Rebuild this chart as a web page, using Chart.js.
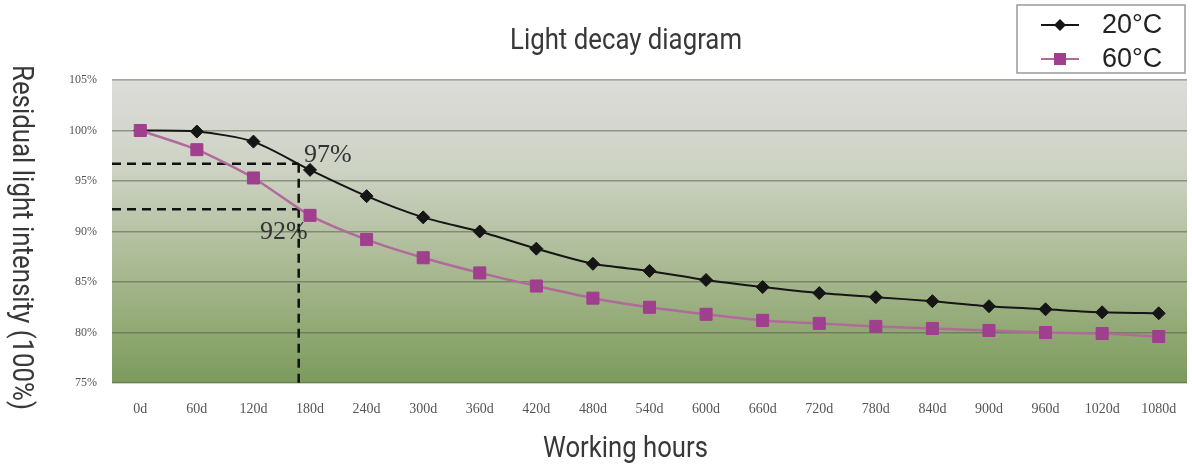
<!DOCTYPE html>
<html>
<head>
<meta charset="utf-8">
<script src="https://cdn.jsdelivr.net/npm/chart.js@4.4.1/dist/chart.umd.min.js"></script>
<style>
  body { margin: 0; background: #fff; }
  #wrap { width: 1192px; height: 465px; }
</style>
</head>
<body>
<div id="wrap"><canvas id="myChart"></canvas></div>
<script>
// data
var days = ['0d', '60d', '120d', '180d', '240d', '300d', '360d', '420d', '480d', '540d',
            '600d', '660d', '720d', '780d', '840d', '900d', '960d', '1020d', '1080d'];
var temp20 = [100, 99.9, 98.9, 96.1, 93.5, 91.4, 90.0, 88.3, 86.8, 86.1,
              85.2, 84.5, 83.9, 83.5, 83.1, 82.6, 82.3, 82.0, 81.9];
var temp60 = [100, 98.1, 95.3, 91.6, 89.2, 87.4, 85.9, 84.6, 83.4, 82.5,
              81.8, 81.2, 80.9, 80.6, 80.4, 80.2, 80.0, 79.9, 79.6];
var seriesNames = ['20°C', '60°C'];
var yTicks = [75, 80, 85, 90, 95, 100, 105];
var refLevels = [96.7, 92.2];
var refLabels = ['97%', '92%'];
var refIndex = 2.8;

var titleText = 'Light decay diagram';
var xTitle = 'Working hours';
var yTitle = 'Residual light intensity (100%)';

var purple = '#9f3f8d';
var purpleLine = '#b06b9b';

// condensed look: draw Roboto squeezed to the width seen in the picture
function drawNarrow(ctx, text, x, y, width) {
    var w = ctx.measureText(text).width;
    ctx.save();
    ctx.translate(x, y);
    ctx.scale(width / w, 1);
    ctx.fillText(text, 0, 0);
    ctx.restore();
}

// plot background gradient
var bgPlugin = {
    id: 'bg',
    beforeDraw: function(chart) {
        var a = chart.chartArea, ctx = chart.ctx;
        var g = ctx.createLinearGradient(0, a.top, 0, a.bottom);
        g.addColorStop(0, '#dcdcda');
        g.addColorStop(0.3, '#cdd2c3');
        g.addColorStop(0.65, '#a6b78e');
        g.addColorStop(1, '#7c9a5c');
        ctx.save();
        ctx.fillStyle = g;
        ctx.fillRect(a.left, a.top, a.right - a.left, a.bottom - a.top);
        ctx.restore();
    }
};

// dashed guide lines and their labels
var refPlugin = {
    id: 'refs',
    beforeDatasetsDraw: function(chart) {
        var ctx = chart.ctx, x = chart.scales.x, y = chart.scales.y, a = chart.chartArea;
        var xp = x.getPixelForValue(refIndex);
        ctx.save();
        ctx.strokeStyle = '#111';
        ctx.lineWidth = 2.5;
        ctx.setLineDash([9, 6]);
        refLevels.forEach(function(v) {
            var yp = y.getPixelForValue(v);
            ctx.beginPath();
            ctx.moveTo(a.left, yp);
            ctx.lineTo(xp, yp);
            ctx.stroke();
        });
        ctx.beginPath();
        ctx.moveTo(xp, y.getPixelForValue(refLevels[0]));
        ctx.lineTo(xp, a.bottom);
        ctx.stroke();
        ctx.restore();
    },
    afterDatasetsDraw: function(chart) {
        var ctx = chart.ctx, x = chart.scales.x, y = chart.scales.y;
        var xp = x.getPixelForValue(refIndex);
        ctx.save();
        ctx.fillStyle = '#333';
        ctx.font = "26px 'Liberation Serif', serif";
        ctx.textAlign = 'center';
        ctx.textBaseline = 'alphabetic';
        ctx.fillText(refLabels[0], xp + 29, y.getPixelForValue(refLevels[0]) - 2);
        ctx.fillText(refLabels[1], xp - 15, y.getPixelForValue(refLevels[1]) + 30);
        ctx.restore();
    }
};

// titles and boxed legend
var textPlugin = {
    id: 'texts',
    afterDraw: function(chart) {
        var ctx = chart.ctx;
        ctx.save();
        ctx.fillStyle = '#383838';
        ctx.font = '29px Roboto, sans-serif';
        ctx.textAlign = 'left';
        ctx.textBaseline = 'alphabetic';
        drawNarrow(ctx, titleText, 510, 49, 232);
        drawNarrow(ctx, xTitle, 543, 457, 165);
        ctx.translate(13, 65);
        ctx.rotate(Math.PI / 2);
        drawNarrow(ctx, yTitle, 0, 0, 345);
        ctx.restore();

        // legend
        ctx.save();
        ctx.fillStyle = '#fff';
        ctx.fillRect(1017, 5, 168, 68);
        ctx.strokeStyle = '#9a9a9a';
        ctx.lineWidth = 1.5;
        ctx.strokeRect(1017, 5, 168, 68);
        var rows = [25, 59];
        chart.data.datasets.forEach(function(ds, i) {
            var yy = rows[i];
            ctx.strokeStyle = ds.borderColor;
            ctx.lineWidth = 2;
            ctx.beginPath();
            ctx.moveTo(1041, yy);
            ctx.lineTo(1079, yy);
            ctx.stroke();
            ctx.fillStyle = ds.pointBackgroundColor;
            if (ds.pointStyle === 'rectRot') {
                ctx.beginPath();
                ctx.moveTo(1060, yy - 6);
                ctx.lineTo(1066, yy);
                ctx.lineTo(1060, yy + 6);
                ctx.lineTo(1054, yy);
                ctx.closePath();
                ctx.fill();
            } else {
                ctx.fillRect(1054, yy - 6, 12, 12);
            }
            ctx.fillStyle = '#222';
            ctx.font = "27px 'Liberation Sans', Arial, sans-serif";
            ctx.textAlign = 'left';
            ctx.textBaseline = 'middle';
            ctx.fillText(ds.label, 1102, yy + 1);
        });
        ctx.restore();
    }
};

var ctx = document.getElementById('myChart').getContext('2d');
var myChart = new Chart(ctx, {
    type: 'line',
    data: {
        labels: days,
        datasets: [{
            label: seriesNames[0],
            data: temp20,
            order: 1,
            borderColor: '#151515',
            borderWidth: 2,
            pointStyle: 'rectRot',
            pointRadius: 6.5,
            pointBackgroundColor: '#151515',
            pointBorderColor: '#151515',
            pointBorderWidth: 1,
            tension: 0.25
        }, {
            label: seriesNames[1],
            data: temp60,
            order: 0,
            borderColor: purpleLine,
            borderWidth: 2.5,
            pointStyle: 'rect',
            pointRadius: 8.5,
            pointBackgroundColor: purple,
            pointBorderColor: purple,
            pointBorderWidth: 1,
            tension: 0.25
        }]
    },
    options: {
        responsive: true,
        maintainAspectRatio: false,
        animation: false,
        layout: {
            autoPadding: false,
            padding: { left: 0, top: 80, right: 5, bottom: 0 }
        },
        plugins: {
            legend: { display: false },
            title: { display: false },
            tooltip: { enabled: false }
        },
        scales: {
            x: {
                offset: true,
                grid: {
                    display: true,
                    drawOnChartArea: false,
                    drawTicks: true,
                    tickLength: 18,
                    color: 'rgba(0,0,0,0)'
                },
                border: { display: false },
                ticks: {
                    color: '#555',
                    padding: 0,
                    maxRotation: 0,
                    autoSkip: false,
                    font: { family: "'Liberation Serif', serif", size: 14 }
                },
                afterFit: function(s) { s.height = 82; }
            },
            y: {
                min: yTicks[0],
                max: yTicks[yTicks.length - 1],
                afterBuildTicks: function(s) {
                    s.ticks = yTicks.map(function(v) { return { value: v }; });
                },
                grid: { color: 'rgba(85, 95, 70, 0.55)', lineWidth: 1.5, drawTicks: false },
                border: { display: false },
                ticks: {
                    color: '#555',
                    padding: 15,
                    font: { family: "'Liberation Serif', serif", size: 12 },
                    callback: function(v) { return v + '%'; }
                },
                afterFit: function(s) { s.width = 112; }
            }
        }
    },
    plugins: [bgPlugin, refPlugin, textPlugin]
});
</script>
</body>
</html>
